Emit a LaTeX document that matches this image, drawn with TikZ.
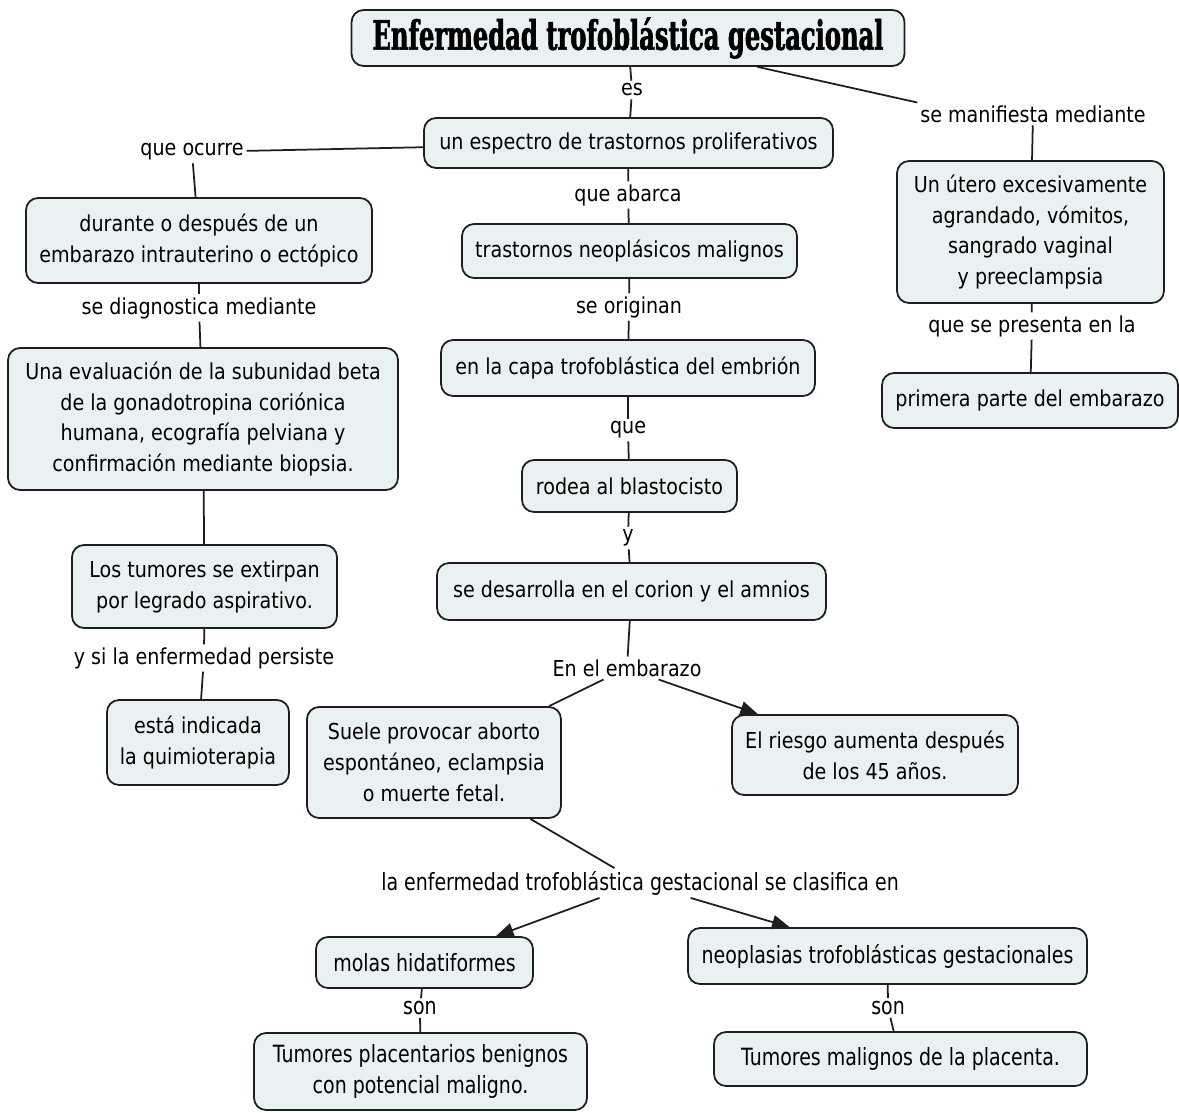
\documentclass[tikz,border=0pt]{standalone}
\usepackage{fontspec}
\usetikzlibrary{arrows.meta}
\setmainfont{DejaVu Sans}[FakeStretch=0.87]
\newfontfamily\condfont{DejaVu Sans}[FakeStretch=0.8]
\newfontfamily\titlefont{DejaVu Serif}[FakeStretch=0.6, BoldFeatures={FakeBold=1.5}]
\definecolor{boxfill}{RGB}{233,241,243}
\definecolor{edge}{RGB}{30,30,30}
\tikzset{
  cbox/.style={draw=edge, fill=boxfill, rounded corners=0.24cm, line width=1pt,
    align=center, inner sep=0pt, font=\fontsize{12.5}{17.6}\selectfont},
  ccbox/.style={cbox, font=\condfont\fontsize{13.5}{17.2}\selectfont},
  lab/.style={inner sep=1.5pt, align=center, font=\fontsize{12.5}{15}\selectfont},
  clab/.style={lab, font=\condfont\fontsize{13.5}{15}\selectfont},
  conn/.style={draw=edge, line width=1pt},
  arr/.style={conn, -{Triangle[length=10pt,width=8pt]}}
}
\begin{document}
\begin{tikzpicture}[x=0.02cm,y=-0.02cm]
\useasboundingbox (0,0) rectangle (1179,1112);
\fill[white] (0,0) rectangle (1179,1112);
% boxes
\node[cbox, minimum width=11.06cm, minimum height=1.12cm,
  font=\titlefont\bfseries\fontsize{23}{25}\selectfont] (title) at (628,38) {Enfermedad trofoblástica gestacional};
\node[cbox, minimum width=8.18cm, minimum height=1.0cm] (spec) at (628.5,143) {un espectro de trastornos proliferativos};
\node[cbox, minimum width=6.92cm, minimum height=1.70cm] (dur) at (199,240.5) {durante o después de un\\embarazo intrauterino o ectópico};
\node[cbox, minimum width=7.80cm, minimum height=2.84cm] (eval) at (203,419) {Una evaluación de la subunidad beta\\de la gonadotropina coriónica\\humana, ecografía pelviana y\\confirmación mediante biopsia.};
\node[cbox, minimum width=5.30cm, minimum height=1.66cm] (tum) at (204.5,586.5) {Los tumores se extirpan\\por legrado aspirativo.};
\node[cbox, minimum width=3.64cm, minimum height=1.70cm] (quim) at (198,742.5) {está indicada\\la quimioterapia};
\node[cbox, minimum width=6.70cm, minimum height=1.08cm] (neo) at (629.5,251) {trastornos neoplásicos malignos};
\node[cbox, minimum width=7.48cm, minimum height=1.12cm] (capa) at (628,368) {en la capa trofoblástica del embrión};
\node[cbox, minimum width=4.30cm, minimum height=1.04cm] (rod) at (629.5,486) {rodea al blastocisto};
\node[cbox, minimum width=7.78cm, minimum height=1.14cm] (des) at (631.5,591.5) {se desarrolla en el corion y el amnios};
\node[cbox, minimum width=5.08cm, minimum height=2.22cm] (suele) at (434,762.5) {Suele provocar aborto\\espontáneo, eclampsia\\o muerte fetal.};
\node[cbox, minimum width=5.72cm, minimum height=1.60cm] (ries) at (875,755) {El riesgo aumenta después\\de los 45 años.};
\node[ccbox, minimum width=4.34cm, minimum height=1.02cm] (molas) at (424.5,962.5) {molas hidatiformes};
\node[ccbox, minimum width=6.66cm, minimum height=1.54cm] (plac) at (420.5,1071.5) {Tumores placentarios benignos\\con potencial maligno.};
\node[ccbox, minimum width=7.98cm, minimum height=1.12cm] (neop) at (887.5,956) {neoplasias trofoblásticas gestacionales};
\node[ccbox, minimum width=7.46cm, minimum height=1.08cm] (mal) at (900.5,1059) {Tumores malignos de la placenta.};
\node[cbox, minimum width=5.34cm, minimum height=2.84cm] (ute) at (1030.5,232) {Un útero excesivamente\\agrandado, vómitos,\\sangrado vaginal\\y preeclampsia};
\node[cbox, minimum width=5.92cm, minimum height=1.10cm] (prim) at (1030,400.5) {primera parte del embarazo};
% labels
\node[lab] (es) at (632,90) {es};
\node[lab] (qo) at (192,152) {que ocurre};
\node[lab] (manif) at (1033,114) {se manifiesta mediante};
\node[lab] (qa) at (628,195) {que abarca};
\node[lab] (sd) at (199,308) {se diagnostica mediante};
\node[lab] (so) at (629,307) {se originan};
\node[lab] (pres) at (1032,326) {que se presenta en la};
\node[lab] (que) at (628,430) {que};
\node[lab] (yy) at (628,538) {y};
\node[lab] (ysi) at (204,658) {y si la enfermedad persiste};
\node[lab] (emb) at (627,668) {En el embarazo};
\node[clab] (clas) at (640,883) {la enfermedad trofoblástica gestacional se clasifica en};
\node[clab] (son1) at (420,1008) {son};
\node[clab] (son2) at (888,1008) {son};
% connectors
\draw[conn] (title) -- (es);
\draw[conn] (es) -- (spec);
\draw[conn] (qo) -- (spec);
\draw[conn] (qo) -- (dur);
\draw[conn] (dur) -- (sd);
\draw[conn] (sd) -- (eval);
\draw[conn] (eval) -- (tum);
\draw[conn] (tum) -- (ysi);
\draw[conn] (ysi) -- (quim);
\draw[conn] (spec) -- (qa);
\draw[conn] (qa) -- (neo);
\draw[conn] (neo) -- (so);
\draw[conn] (so) -- (capa);
\draw[conn] (capa) -- (que);
\draw[conn] (que) -- (rod);
\draw[conn] (rod) -- (yy);
\draw[conn] (yy) -- (des);
\draw[conn] (des) -- (emb);
\draw[conn] (emb) -- (suele);
\draw[arr] (emb.-20) -- (ries);
\draw[conn] (suele) -- (clas);
\draw[arr] (clas) -- (molas);
\draw[arr] (clas) -- (neop);
\draw[conn] (molas) -- (son1);
\draw[conn] (son1) -- (plac);
\draw[conn] (neop) -- (son2);
\draw[conn] (son2) -- (mal);
\draw[conn] (title) -- (manif.north west);
\draw[conn] (manif) -- (ute);
\draw[conn] (ute) -- (pres);
\draw[conn] (pres) -- (prim);
\end{tikzpicture}
\end{document}
